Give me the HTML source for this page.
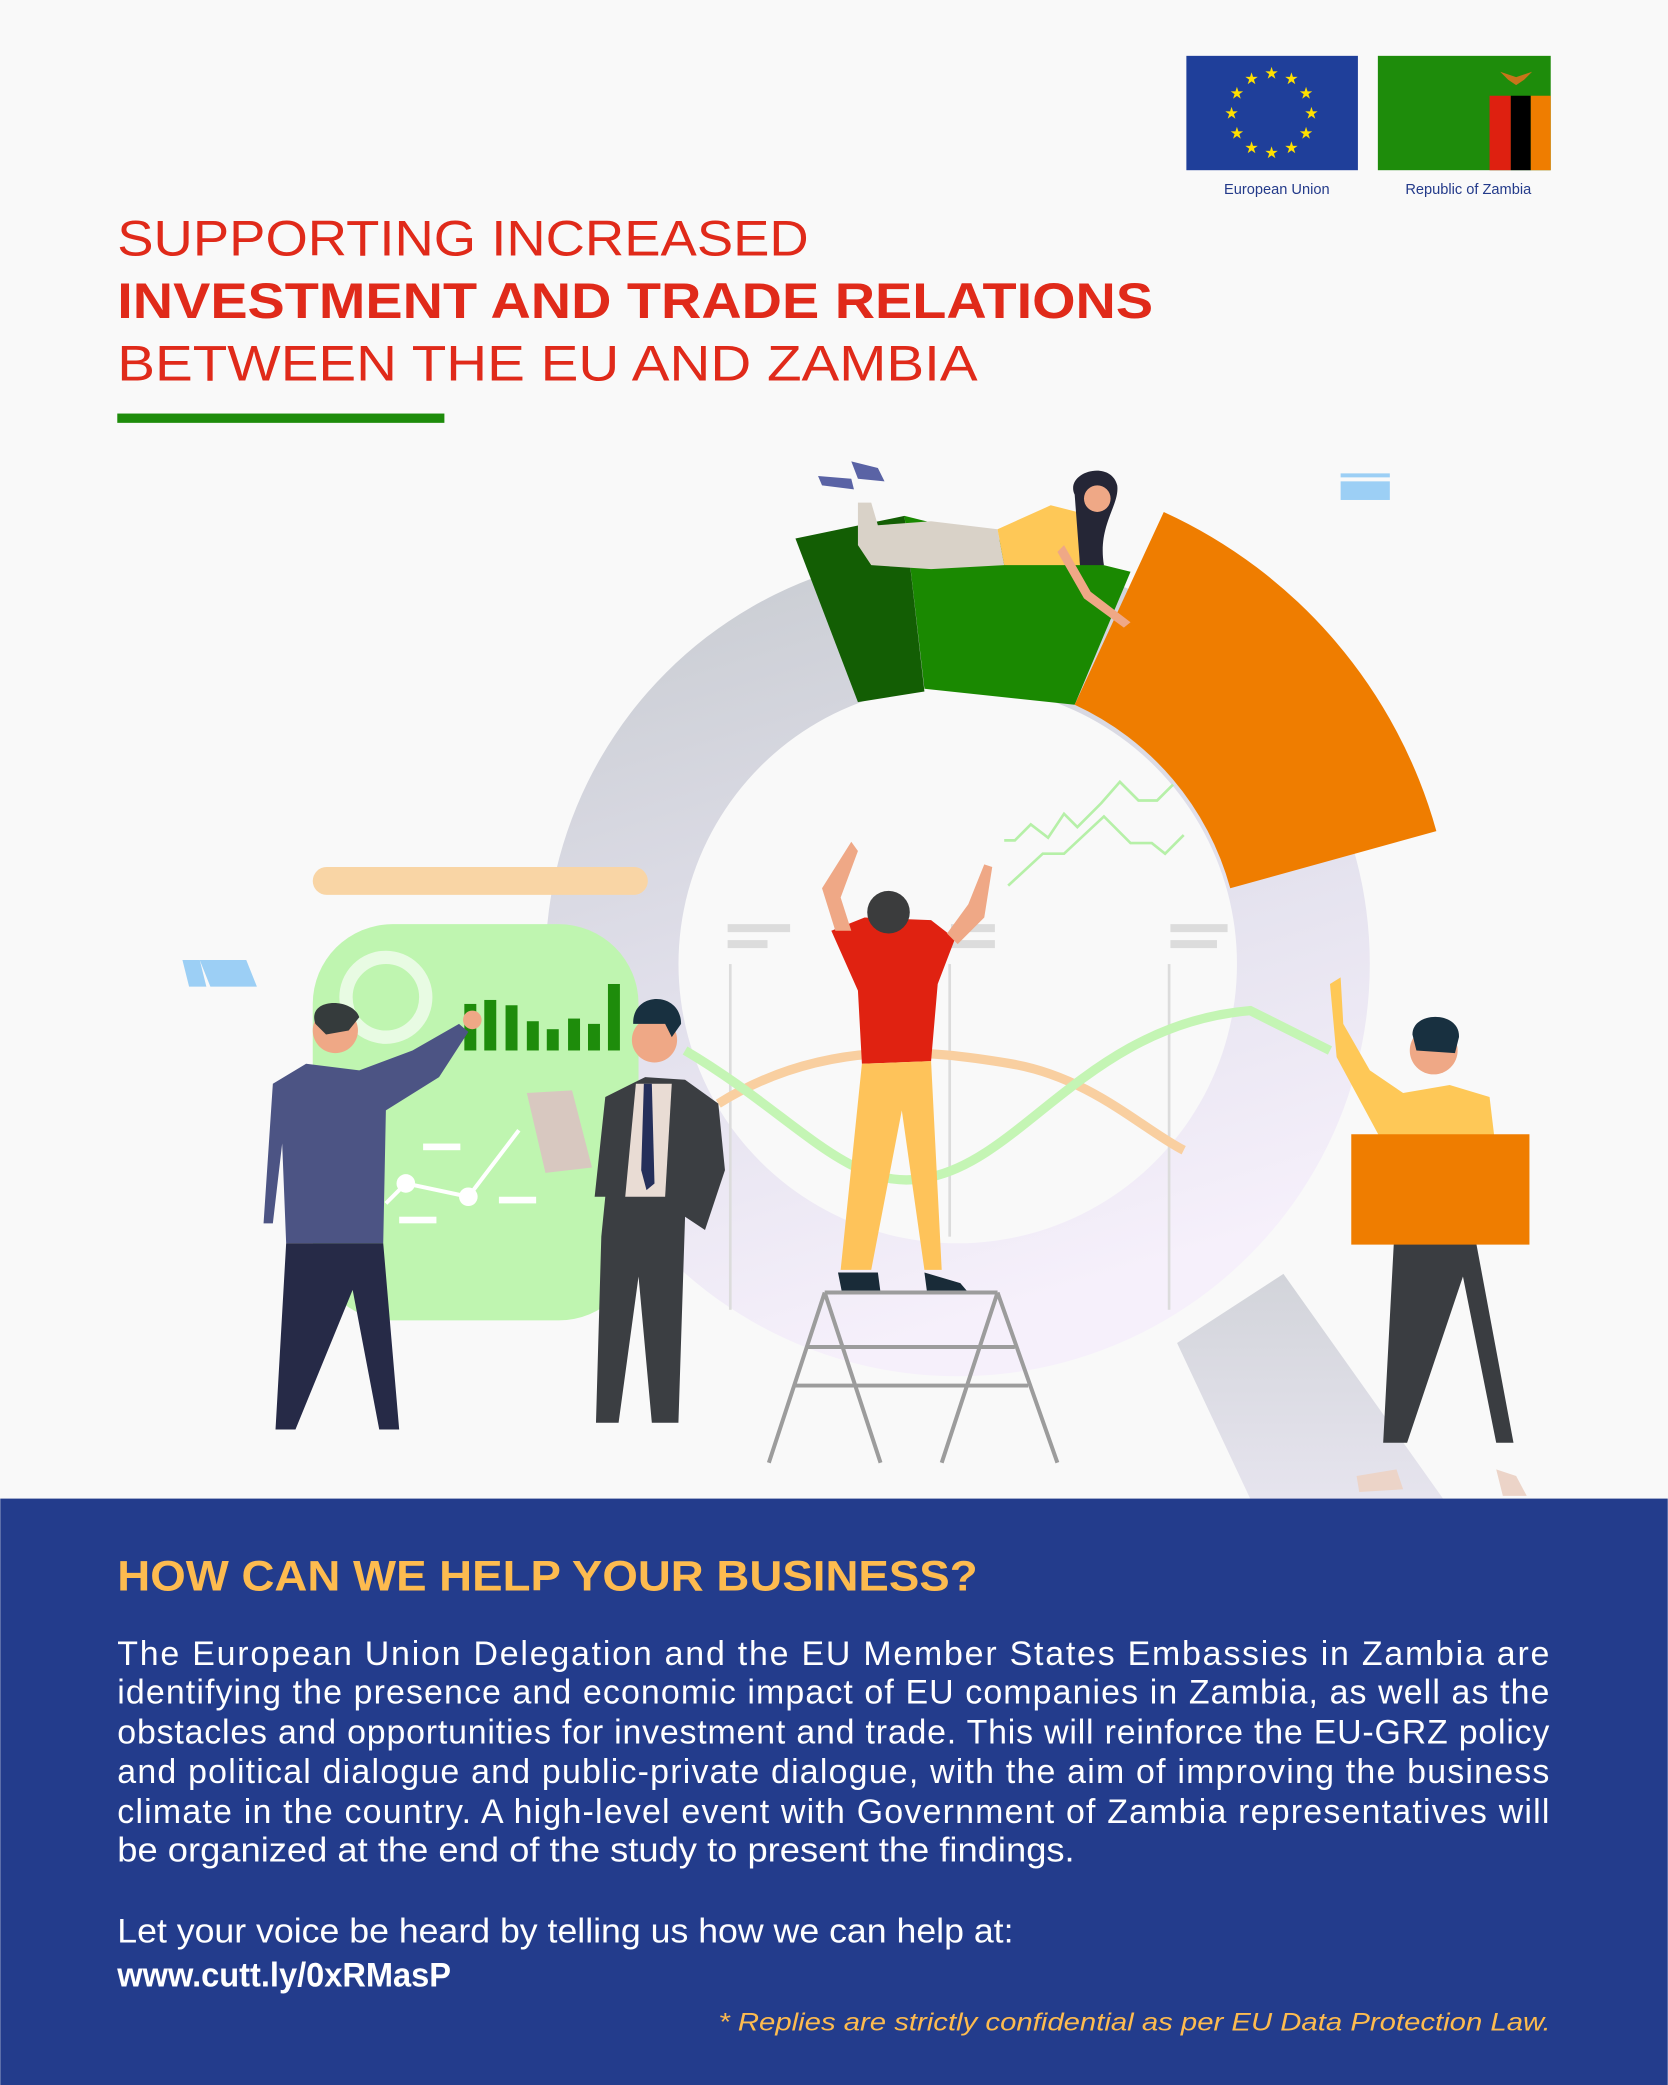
<!DOCTYPE html>
<html><head><meta charset="utf-8"><style>
html,body{margin:0;padding:0;background:#f9f9f9}
svg{display:block}
</style></head><body>
<svg width="1668" height="2085" viewBox="0 0 1254 1568" xmlns="http://www.w3.org/2000/svg" font-family="'Liberation Sans', sans-serif">
<defs>
<linearGradient id="ring" x1="0" y1="0" x2="0.3" y2="1">
<stop offset="0" stop-color="#c6cacf"/><stop offset="0.6" stop-color="#e4e2ee"/><stop offset="1" stop-color="#f6f0fb"/></linearGradient>
<linearGradient id="hd" x1="0" y1="0" x2="0" y2="1"><stop offset="0" stop-color="#d2d4da"/><stop offset="1" stop-color="#e6e4ee"/></linearGradient>
</defs>
<rect width="1254" height="1568" fill="#f9f9f9"/>
<rect x="892" y="42" width="129" height="86" fill="#1f3f9a"/>
<g fill="#ffe000" font-size="12" text-anchor="middle">
<text x="956" y="59">★</text><text x="971" y="63">★</text><text x="982" y="74">★</text><text x="986" y="89">★</text><text x="982" y="104">★</text><text x="971" y="115">★</text><text x="956" y="119">★</text><text x="941" y="115">★</text><text x="930" y="104">★</text><text x="926" y="89">★</text><text x="930" y="74">★</text><text x="941" y="63">★</text></g>
<rect x="1036" y="42" width="130" height="86" fill="#1e8c0b"/>
<rect x="1120" y="72" width="16" height="56" fill="#de2010"/><rect x="1136" y="72" width="15" height="56" fill="#000"/><rect x="1151" y="72" width="15" height="56" fill="#ef7d00"/>
<path d="M1128 54 L1140 58 L1152 54 L1146 60 L1140 64 L1134 60Z" fill="#c8741a"/>
<text x="960" y="146" font-size="11" fill="#233a8a" text-anchor="middle">European Union</text>
<text x="1104" y="146" font-size="11" fill="#233a8a" text-anchor="middle">Republic of Zambia</text>
<text x="88" y="192" font-size="38" fill="#e02a1a" textLength="520" lengthAdjust="spacingAndGlyphs">SUPPORTING INCREASED</text>
<text x="88" y="239" font-size="38" font-weight="bold" fill="#e02a1a" textLength="779" lengthAdjust="spacingAndGlyphs">INVESTMENT AND TRADE RELATIONS</text>
<text x="88" y="286" font-size="38" fill="#e02a1a" textLength="647" lengthAdjust="spacingAndGlyphs">BETWEEN THE EU AND ZAMBIA</text>
<rect x="88" y="311" width="246" height="7" fill="#1e8c0b"/>
<rect x="1008" y="356" width="37" height="3" fill="#9ccff5"/><rect x="1008" y="362" width="37" height="14" fill="#9ccff5"/>
<path d="M137 722 L150 722 L155 742 L142 742Z M150 722 L185 722 L193 742 L158 742Z" fill="#9ccff5"/>
<path d="M885 1010 L965 958 L1085 1127 L940 1127Z" fill="url(#hd)"/>
<path fill-rule="evenodd" fill="url(#ring)" d="M720 415 A310 310 0 1 1 719.9 415Z M720 515 A210 210 0 1 0 720.1 515Z"/>
<rect x="235" y="652" width="252" height="21" rx="10.5" fill="#f9d5a5"/>
<rect x="235" y="695" width="245" height="298" rx="60" fill="#bff5b0"/>
<circle cx="290" cy="750" r="30" fill="none" stroke="#e8fbe3" stroke-width="10"/>
<g fill="#1e8c0b"><rect x="349" y="755" width="9" height="35"/><rect x="364" y="752" width="9" height="38"/><rect x="380" y="756" width="9" height="34"/><rect x="396" y="768" width="9" height="22"/><rect x="411" y="774" width="9" height="16"/><rect x="427" y="766" width="9" height="24"/><rect x="442" y="770" width="9" height="20"/><rect x="457" y="740" width="9" height="50"/></g>
<polyline points="290,905 305,890 352,900 390,850" fill="none" stroke="#fff" stroke-width="3"/>
<circle cx="305" cy="890" r="7" fill="#fff"/><circle cx="352" cy="900" r="7" fill="#fff"/>
<rect x="318" y="860" width="28" height="5" fill="#fff"/><rect x="300" y="915" width="28" height="5" fill="#fff"/><rect x="375" y="900" width="28" height="5" fill="#fff"/>
<g fill="#dcdcdc"><rect x="547" y="695" width="47" height="6"/><rect x="547" y="707" width="30" height="6"/><rect x="715" y="695" width="33" height="6"/><rect x="715" y="707" width="33" height="6"/><rect x="880" y="695" width="43" height="6"/><rect x="880" y="707" width="35" height="6"/><rect x="548" y="725" width="2" height="260"/><rect x="713" y="725" width="2" height="205"/><rect x="878" y="725" width="2" height="260"/></g>
<path d="M540 830 C620 780 700 790 760 800 C820 810 860 850 890 865" fill="none" stroke="#f9cfa0" stroke-width="7"/>
<path d="M515 790 C600 840 640 900 700 885 C770 870 820 770 940 760 L1000 790" fill="none" stroke="#c4f5b4" stroke-width="7"/>
<polyline points="755,632 763,632 775,620 788,630 800,612 810,622 828,604 842,588 856,602 870,602 882,590" fill="none" stroke="#b6f0a8" stroke-width="2"/>
<polyline points="758,666 784,642 800,642 830,614 850,634 866,634 876,642 890,628" fill="none" stroke="#b6f0a8" stroke-width="2"/>
<path d="M598 405 L680 388 L695 520 L645 528Z" fill="#135e04"/>
<path d="M680 388 L850 430 L808 530 L695 518Z" fill="#1a8901"/>
<path d="M875 385 A374 374 0 0 1 1080 625 L925 668 A214 214 0 0 0 808 530Z" fill="#ef7d00"/>
<path d="M645 378 L655 378 L660 395 L700 392 L750 398 L755 425 L700 428 L655 425 L645 410Z" fill="#d9d2c8"/>
<path d="M750 398 L790 380 L810 385 L812 425 L755 425Z" fill="#fec857"/>
<path d="M808 372 C800 355 835 345 840 365 C842 380 825 395 830 425 L812 425Z" fill="#252636"/>
<circle cx="825" cy="375" r="10" fill="#efa886"/>
<path d="M800 410 L820 445 L850 468 L845 472 L815 450 L795 415Z" fill="#efa886"/>
<path d="M615 358 L640 360 L642 368 L618 365Z M640 347 L660 352 L665 362 L645 360Z" fill="#5a63a5"/>
<path d="M205 815 L230 800 L270 805 L310 790 L345 770 L352 776 L330 810 L290 835 L288 935 L215 935 L212 860 L205 920 L198 920Z" fill="#4c5484"/>
<path d="M215 935 L288 935 L300 1075 L285 1075 L265 970 L222 1075 L207 1075Z" fill="#262a47"/>
<circle cx="252" cy="775" r="17" fill="#efa886"/><path d="M237 770 C230 750 265 750 270 765 L262 775 L245 778 Z" fill="#353b3c"/>
<circle cx="355" cy="767" r="7" fill="#efa886"/>
<path d="M455 825 L485 810 L515 812 L540 830 L545 880 L530 925 L515 915 L510 1070 L490 1070 L480 960 L465 1070 L448 1070 L452 930 L455 900 L447 900Z" fill="#3b3e42"/>
<path d="M478 815 L505 815 L500 900 L470 900Z" fill="#e9dcd4"/>
<path d="M484 815 L490 815 L492 890 L486 895 L482 880Z" fill="#252f5a"/>
<circle cx="492" cy="782" r="17" fill="#efa886"/><path d="M476 770 C475 745 512 745 512 770 L505 780 L500 770Z" fill="#183040"/>
<path d="M396 822 L430 820 L445 878 L410 882Z" fill="#d8c8c0"/>
<path d="M625 700 L650 690 L700 692 L718 706 L705 740 L700 798 L648 800 L645 745Z" fill="#e02211"/>
<path d="M648 800 L700 798 L708 955 L695 955 L678 835 L655 955 L632 955Z" fill="#fec35a"/>
<path d="M630 957 L660 957 L662 972 L633 972Z M695 957 L722 965 L728 972 L697 972Z" fill="#192b38"/>
<circle cx="668" cy="686" r="16" fill="#3b3c3d"/>
<path d="M628 700 L618 668 L640 633 L645 640 L632 675 L640 700Z M712 702 L728 680 L740 650 L746 652 L740 690 L720 710Z" fill="#efa886"/>
<g stroke="#9c9c9c" stroke-width="3" fill="none"><path d="M620 972 L578 1100 M620 972 L662 1100 M750 972 L708 1100 M750 972 L795 1100 M620 972 L750 972 M606 1013 L763 1013 M596 1042 L773 1042"/></g>
<path d="M1010 770 L1030 805 L1055 822 L1090 816 L1120 825 L1132 925 L1060 935 L1040 860 L1005 795 L1000 740 L1008 735Z" fill="#fec857"/>
<circle cx="1078" cy="790" r="18" fill="#efa886"/><path d="M1062 778 C1062 760 1098 760 1097 780 L1094 792 L1065 790Z" fill="#183040"/>
<path d="M1048 935 L1110 935 L1138 1085 L1125 1085 L1100 960 L1058 1085 L1040 1085Z" fill="#3a3d41"/>
<rect x="1016" y="853" width="134" height="83" fill="#ef7d00"/>
<path d="M1020 1110 L1050 1105 L1055 1120 L1022 1122Z M1125 1105 L1140 1110 L1148 1125 L1130 1125Z" fill="#ecd4c8"/>
<rect x="0" y="1127" width="1254" height="441" fill="#233c8c"/>
<text x="88" y="1196" font-size="32" font-weight="bold" fill="#fdbb4f" textLength="647" lengthAdjust="spacingAndGlyphs">HOW CAN WE HELP YOUR BUSINESS?</text>
<g font-size="25.5" fill="#fff">
<text x="88" y="1252" textLength="1077" lengthAdjust="spacing">The European Union Delegation and the EU Member States Embassies in Zambia are</text>
<text x="88" y="1281" textLength="1077" lengthAdjust="spacing">identifying the presence and economic impact of EU companies in Zambia, as well as the</text>
<text x="88" y="1311" textLength="1077" lengthAdjust="spacing">obstacles and opportunities for investment and trade. This will reinforce the EU-GRZ policy</text>
<text x="88" y="1341" textLength="1077" lengthAdjust="spacing">and political dialogue and  public-private dialogue, with the aim of improving the business</text>
<text x="88" y="1371" textLength="1077" lengthAdjust="spacing">climate in the country. A high-level event with Government of Zambia representatives will</text>
<text x="88" y="1400" textLength="720" lengthAdjust="spacingAndGlyphs">be organized at the end of the study to present the findings.</text>
<text x="88" y="1461" textLength="674" lengthAdjust="spacingAndGlyphs">Let your voice be heard by telling us how we can help at:</text>
<text x="88" y="1494" font-weight="bold" textLength="251" lengthAdjust="spacingAndGlyphs">www.cutt.ly/0xRMasP</text>
</g>
<text x="540" y="1527" font-size="19" font-style="italic" fill="#fdbb4f" textLength="626" lengthAdjust="spacingAndGlyphs">* Replies are strictly confidential as per EU Data Protection Law.</text>
</svg>
</body></html>
